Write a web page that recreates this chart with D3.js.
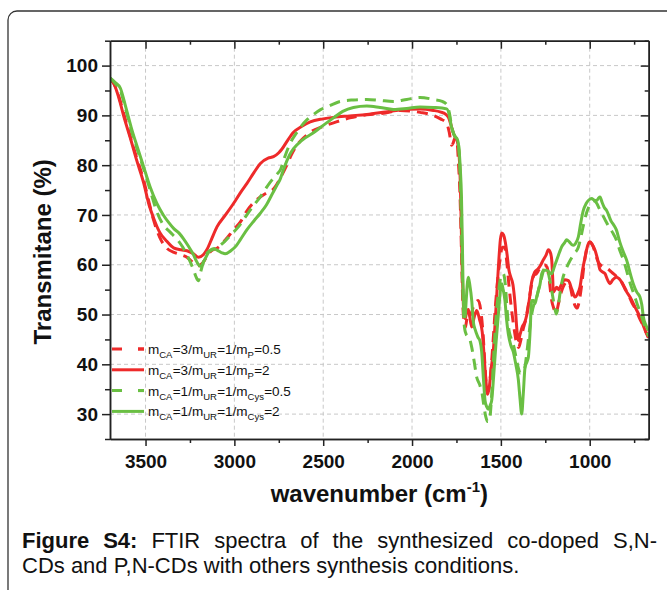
<!DOCTYPE html>
<html>
<head>
<meta charset="utf-8">
<script src="https://cdn.jsdelivr.net/npm/d3@7"></script>
<style>
  body { margin: 0; background: #fff; }
  svg text { font-family: "Liberation Sans", Arial, sans-serif; }
</style>
</head>
<body>
<svg id="chart" width="667" height="590"></svg>
<script>
// wavenumber (cm-1), transmitance (%)
const redSolid = [[3700,97.3],[3680,96.5],[3650,93.5],[3620,89.5],[3586,85.5],[3550,81],[3511,76.5],[3480,72],[3455,69.4],[3420,66.5],[3380,64.7],[3342,63.4],[3300,63],[3267,62.8],[3230,62.2],[3202,61.5],[3175,62],[3155,63],[3130,65],[3098,67.6],[3050,70],[3005,72.3],[2960,74.8],[2930,76.3],[2890,78.5],[2855,80.3],[2810,81.4],[2780,81.7],[2750,82.5],[2733,83.2],[2700,85],[2667,86.6],[2620,87.8],[2573,88.7],[2500,89.3],[2442,89.6],[2350,89.9],[2255,90.2],[2150,90.7],[2067,91.1],[1955,91.3],[1880,91],[1842,90.7],[1810,90.2],[1795,89.6],[1780,88],[1767,86.4],[1755,85.5],[1745,84.8],[1735,82],[1728,76],[1722,66],[1716,57],[1711,52],[1705,49.5],[1700,49.2],[1692,50.8],[1683,51],[1675,49.5],[1664,47.5],[1650,49.5],[1636,50.8],[1620,49],[1605,46.5],[1595,42],[1585,37],[1575,34],[1565,35.5],[1555,39],[1542,43],[1528,51],[1514,59.5],[1503,65],[1495,66.4],[1485,66],[1475,64.5],[1465,62],[1455,59],[1445,57.6],[1432,56],[1420,52],[1410,47],[1402,44.8],[1392,46],[1380,47.5],[1365,48.5],[1355,49.8],[1340,53],[1327,56.5],[1310,58.5],[1290,59.2],[1275,60],[1261,61],[1245,62],[1233,63],[1222,62.5],[1214,61],[1208,57],[1205,54.5],[1195,55],[1186,55.5],[1175,55],[1160,56],[1140,57],[1120,56.8],[1100,55],[1083,53.5],[1070,54],[1055,55.5],[1040,59],[1026,61.5],[1010,64],[998,64.6],[985,64],[970,62.9],[955,61],[942,59],[925,58.5],[914,58.2],[900,57],[886,56.2],[870,57],[849,57.5],[835,57.2],[820,56.5],[800,55],[773,53.5],[745,51.5],[717,49.5],[690,47],[670,45.4]];

const redDashed = [[3700,97.3],[3680,96.5],[3650,93.8],[3620,90],[3586,85.8],[3550,81.5],[3511,77],[3480,72.5],[3455,69],[3420,65.5],[3380,63.3],[3340,62.5],[3300,62],[3267,61.5],[3235,60.5],[3202,59.8],[3175,60.5],[3150,62],[3120,63],[3098,63.3],[3050,65],[3000,67.2],[2968,68.5],[2930,70.8],[2892,72.5],[2855,73.6],[2820,74.4],[2780,75.2],[2740,77.5],[2705,80],[2680,82],[2648,84],[2610,85.5],[2573,86.6],[2500,87.8],[2442,88.5],[2350,89.5],[2255,90.1],[2150,90.5],[2067,91],[1955,90.6],[1880,90],[1840,89.3],[1805,88.4],[1790,86.5],[1777,84],[1768,84.5],[1758,85.5],[1748,85],[1738,80],[1730,74],[1722,63],[1715,53],[1708,48.5],[1700,47.4],[1692,49],[1683,50.5],[1670,50],[1655,51.5],[1640,52.5],[1627,52.8],[1612,50.5],[1600,46],[1590,40],[1578,34.5],[1568,35],[1558,38],[1545,44],[1530,52],[1518,57],[1505,61],[1492,63.5],[1480,63.5],[1468,61],[1455,56],[1440,51],[1425,47],[1410,44],[1400,43.4],[1390,44.5],[1375,47],[1360,49],[1345,52],[1330,55.5],[1315,57.8],[1300,58.2],[1285,59],[1270,59.7],[1255,60],[1240,59.5],[1228,57],[1215,53],[1200,51],[1190,50.2],[1180,51.5],[1168,53.5],[1150,55.5],[1130,56.5],[1113,56],[1100,54],[1085,52],[1070,51.3],[1060,52.5],[1045,56],[1030,60.5],[1015,63.5],[1000,64.5],[985,64],[970,62.5],[955,60.8],[940,60],[920,59.5],[900,59.2],[880,58.6],[860,58],[840,57.4],[820,56.5],[800,55.2],[780,53.8],[760,52.2],[740,51],[720,49.3],[700,47.8],[680,46.2],[668,45.3]];

const greenSolid = [[3700,97.5],[3670,96.6],[3642,95.5],[3610,91.5],[3580,87.5],[3545,83.5],[3511,79.7],[3474,75.6],[3436,72.3],[3400,70],[3370,68.5],[3342,67.3],[3310,66.3],[3286,65.2],[3260,63.8],[3230,62],[3210,60.5],[3192,59.7],[3170,60.8],[3145,62.5],[3117,63.2],[3090,62.8],[3070,62.4],[3052,62.2],[3020,62.8],[2990,63.8],[2967,65],[2930,67],[2890,68.8],[2855,70.3],[2820,72],[2790,74],[2760,76],[2742,77.2],[2720,79.5],[2690,82],[2667,83.3],[2620,85],[2555,86.5],[2500,88],[2442,89.5],[2390,90.8],[2330,91.6],[2255,91.9],[2180,91.6],[2105,91.2],[2030,91.4],[1955,91.7],[1880,91.6],[1805,91.3],[1790,90],[1780,88],[1767,86.4],[1755,85.6],[1745,85.2],[1735,83],[1728,79],[1722,74],[1717,65],[1713,56],[1710,52],[1706,50],[1702,49.5],[1695,53],[1688,56.5],[1683,57.5],[1675,56],[1664,52.8],[1655,48.5],[1645,47],[1630,45.5],[1617,44.6],[1608,42.5],[1598,37],[1589,32.7],[1580,31.5],[1570,31],[1560,31.8],[1552,32.7],[1540,38],[1528,44],[1514,50.1],[1502,55],[1495,56.2],[1487,55],[1477,52.8],[1468,49],[1458,46.1],[1444,43.8],[1430,42.5],[1416,40],[1402,37],[1392,33],[1383,30],[1374,34],[1364,39.4],[1353,40.5],[1345,41.5],[1335,47],[1327,52.8],[1315,52.8],[1308,52.2],[1298,53.6],[1289,54.8],[1280,56],[1270,58.2],[1256,58.9],[1242,58.9],[1228,58.5],[1214,58.2],[1200,59.5],[1186,60.9],[1170,62.5],[1158,63.6],[1140,64.5],[1130,65],[1115,64.6],[1100,64],[1092,63.9],[1075,64.6],[1064,65.6],[1050,68.5],[1036,70.9],[1020,72.3],[1005,73],[989,73.3],[975,73],[961,72.9],[950,73.4],[942,73.6],[930,72.5],[918,71.5],[905,70.9],[880,68.8],[865,68],[849,66.9],[830,64.5],[810,62.5],[792,60.9],[770,58],[755,56.2],[735,54.5],[717,53.5],[707,52],[698,49.5],[685,48],[670,46.8]];

const greenDashed = [[3700,97.5],[3670,96.4],[3642,95],[3610,91],[3580,87],[3545,83],[3511,79.3],[3474,75],[3440,71],[3400,68],[3360,66.5],[3320,65],[3290,63.5],[3260,61.5],[3230,59],[3215,57.5],[3202,56.8],[3190,58.5],[3170,61],[3150,62.5],[3125,63],[3095,63.5],[3060,64.5],[3020,66],[2980,67.5],[2940,69.5],[2900,71.5],[2855,73.6],[2800,76.5],[2760,78.2],[2742,79],[2715,81.8],[2686,84.4],[2650,86.5],[2620,88],[2592,89.1],[2550,90.3],[2517,91.1],[2460,92],[2405,92.8],[2330,93.1],[2255,93.2],[2180,93],[2105,92.8],[2030,93.2],[1955,93.6],[1880,93.2],[1830,92.8],[1805,92.2],[1790,90.5],[1778,88],[1765,86.2],[1752,85.5],[1740,84.5],[1732,80],[1725,72],[1720,64],[1715,56],[1710,50],[1703,47],[1695,46],[1685,45.5],[1675,45],[1664,43.4],[1650,40.5],[1636,37.4],[1620,36],[1605,34],[1595,31.5],[1585,29.5],[1575,28.5],[1565,28.6],[1555,32],[1543,40],[1530,48],[1515,54],[1500,57.5],[1486,58.2],[1475,56],[1465,51],[1455,47],[1445,45.5],[1430,44],[1415,41.5],[1400,39],[1390,38.2],[1378,38.5],[1365,39.4],[1355,42],[1342,46],[1327,50],[1310,52.5],[1298,53.5],[1285,55.5],[1270,57.5],[1255,59.2],[1240,59],[1225,57],[1210,54],[1198,51.5],[1188,50.1],[1178,51.5],[1165,54.8],[1150,57.5],[1135,59],[1120,60.2],[1100,61.5],[1085,62.3],[1064,63.5],[1050,65.5],[1035,68],[1017,70.5],[1000,72],[985,72.6],[972,72.8],[960,72.3],[945,71.2],[930,70.2],[910,68.8],[890,67.5],[870,66.4],[850,65],[830,62.8],[810,61],[790,58.5],[770,56],[750,54],[730,51.8],[710,49.8],[690,47.7],[668,45.6]];

const xMajor = [3500, 3000, 2500, 2000, 1500, 1000];
const xMinor = [3250, 2750, 2250, 1750, 1250, 750];
const yMajor = [30, 40, 50, 60, 70, 80, 90, 100];
const yMinor = [25, 35, 45, 55, 65, 75, 85, 95, 105];

// legend entries: [base, subscript] pieces
const legendLabels = [
  [["m","CA"],["=3/m","UR"],["=1/m","P"],["=0.5",""]],
  [["m","CA"],["=3/m","UR"],["=1/m","P"],["=2",""]],
  [["m","CA"],["=1/m","UR"],["=1/m","Cys"],["=0.5",""]],
  [["m","CA"],["=1/m","UR"],["=1/m","Cys"],["=2",""]]
];

const RED = "#ee2a2a", GREEN = "#6abf43";
const series = [
  { data: redDashed, color: RED, dash: "11,7" },
  { data: redSolid, color: RED, dash: null },
  { data: greenDashed, color: GREEN, dash: "11,7" },
  { data: greenSolid, color: GREEN, dash: null }
];

const svg = d3.select("#chart");
const L = 110, R = 648.7, T = 40.7, B = 439;

const x = d3.scaleLinear().domain([3700, 668]).range([L, R]);
const y = d3.scaleLinear().domain([25, 105]).range([B, T]);

// outer rounded frame
svg.append("rect")
  .attr("x", 8).attr("y", 11).attr("width", 720).attr("height", 640)
  .attr("rx", 9).attr("fill", "none").attr("stroke", "#333").attr("stroke-width", 1.3);

// grid
const grid = svg.append("g").attr("stroke", "#c8c8c8").attr("stroke-width", 1).attr("stroke-dasharray", "4,3");
grid.selectAll(".gx").data(xMajor).join("line")
  .attr("x1", d => x(d)).attr("x2", d => x(d)).attr("y1", T).attr("y2", B);
grid.selectAll(".gy").data(yMajor).join("line")
  .attr("x1", L).attr("x2", R).attr("y1", d => y(d)).attr("y2", d => y(d));

// curves
svg.append("clipPath").attr("id", "clip").append("rect")
  .attr("x", L).attr("y", T).attr("width", R - L).attr("height", B - T);

const line = d3.line().x(d => x(d[0])).y(d => y(d[1])).curve(d3.curveMonotoneX);

svg.append("g").attr("clip-path", "url(#clip)")
  .selectAll("path").data(series).join("path")
  .attr("d", d => line(d.data))
  .attr("fill", "none")
  .attr("stroke", d => d.color)
  .attr("stroke-width", 3)
  .attr("stroke-linejoin", "round")
  .attr("stroke-dasharray", d => d.dash);

// axes
function styleAxis(g) {
  g.selectAll(".domain").attr("stroke", "#222").attr("stroke-width", 1.5);
  g.selectAll(".tick line").attr("stroke", "#222").attr("stroke-width", 1.5);
  g.selectAll(".tick text").attr("fill", "#111").attr("font-size", 19).attr("font-weight", "bold")
    .attr("font-family", "'Liberation Sans', Arial, sans-serif");
}

svg.append("g").attr("transform", `translate(0,${B})`)
  .call(d3.axisBottom(x).tickValues(xMajor).tickSize(7).tickSizeOuter(0).tickPadding(9).tickFormat(d3.format("d")))
  .call(styleAxis);
svg.append("g").attr("transform", `translate(0,${B})`)
  .call(d3.axisBottom(x).tickValues(xMinor).tickSize(4).tickSizeOuter(0).tickFormat(""))
  .call(styleAxis);
svg.append("g").attr("transform", `translate(${L},0)`)
  .call(d3.axisLeft(y).tickValues(yMajor).tickSize(8).tickSizeOuter(0).tickPadding(4))
  .call(styleAxis);
svg.append("g").attr("transform", `translate(${L},0)`)
  .call(d3.axisLeft(y).tickValues(yMinor).tickSize(5).tickSizeOuter(0).tickFormat(""))
  .call(styleAxis);
svg.append("g").attr("transform", `translate(0,${T})`)
  .call(d3.axisTop(x).tickValues(xMajor).tickSize(-8).tickSizeOuter(0).tickFormat(""))
  .call(styleAxis);
svg.append("g").attr("transform", `translate(0,${T})`)
  .call(d3.axisTop(x).tickValues(xMinor).tickSize(-4).tickSizeOuter(0).tickFormat(""))
  .call(styleAxis);
svg.append("g").attr("transform", `translate(${R},0)`)
  .call(d3.axisRight(y).tickValues(yMajor).tickSize(-8).tickSizeOuter(0).tickFormat(""))
  .call(styleAxis);
svg.append("g").attr("transform", `translate(${R},0)`)
  .call(d3.axisRight(y).tickValues(yMinor).tickSize(-4).tickSizeOuter(0).tickFormat(""))
  .call(styleAxis);

// axis titles
svg.append("text")
  .attr("transform", `translate(51,${(T + B) / 2 + 12}) rotate(-90)`)
  .attr("text-anchor", "middle").attr("font-size", 24).attr("font-weight", "bold").attr("fill", "#111")
  .text("Transmitane (%)");

const xt = svg.append("text")
  .attr("x", (L + R) / 2).attr("y", 502)
  .attr("text-anchor", "middle").attr("font-size", 24).attr("font-weight", "bold").attr("fill", "#111");
xt.append("tspan").text("wavenumber (cm");
xt.append("tspan").attr("font-size", 15).attr("dy", -10).text("-1");
xt.append("tspan").attr("dy", 10).text(")");

// legend
const lg = svg.append("g");
series.forEach((s, i) => {
  const cy = 349 + i * 20.8;
  lg.append("line")
    .attr("x1", 112).attr("x2", 144).attr("y1", cy).attr("y2", cy)
    .attr("stroke", s.color).attr("stroke-width", 3)
    .attr("stroke-dasharray", s.dash ? "10,16" : null);
  if (s.dash) {
    lg.append("line").attr("x1", 138).attr("x2", 144).attr("y1", cy).attr("y2", cy)
      .attr("stroke", s.color).attr("stroke-width", 3);
  }
  const t = lg.append("text").attr("x", 148).attr("y", cy + 5).attr("font-size", 13.5).attr("fill", "#111");
  legendLabels[i].forEach(p => {
    t.append("tspan").text(p[0]);
    if (p[1]) {
      t.append("tspan").attr("font-size", 9.5).attr("dy", 4).text(p[1]);
      t.append("tspan").attr("font-size", 1).attr("dy", -4).text(" ");
    }
  });
});

// caption (first line justified to the frame width)
const cap1 = svg.append("text").attr("x", 22).attr("y", 548).attr("font-size", 22).attr("fill", "#111");
cap1.append("tspan").attr("font-weight", "bold").text("Figure S4:");
cap1.append("tspan").text(" FTIR spectra of the synthesized co-doped S,N-");
const natural = cap1.node().getComputedTextLength();
cap1.attr("word-spacing", Math.max(0, (657 - 22 - natural) / 8));
svg.append("text").attr("x", 22).attr("y", 573).attr("font-size", 22).attr("fill", "#111")
  .text("CDs and P,N-CDs with others synthesis conditions.");
</script>
</body>
</html>
